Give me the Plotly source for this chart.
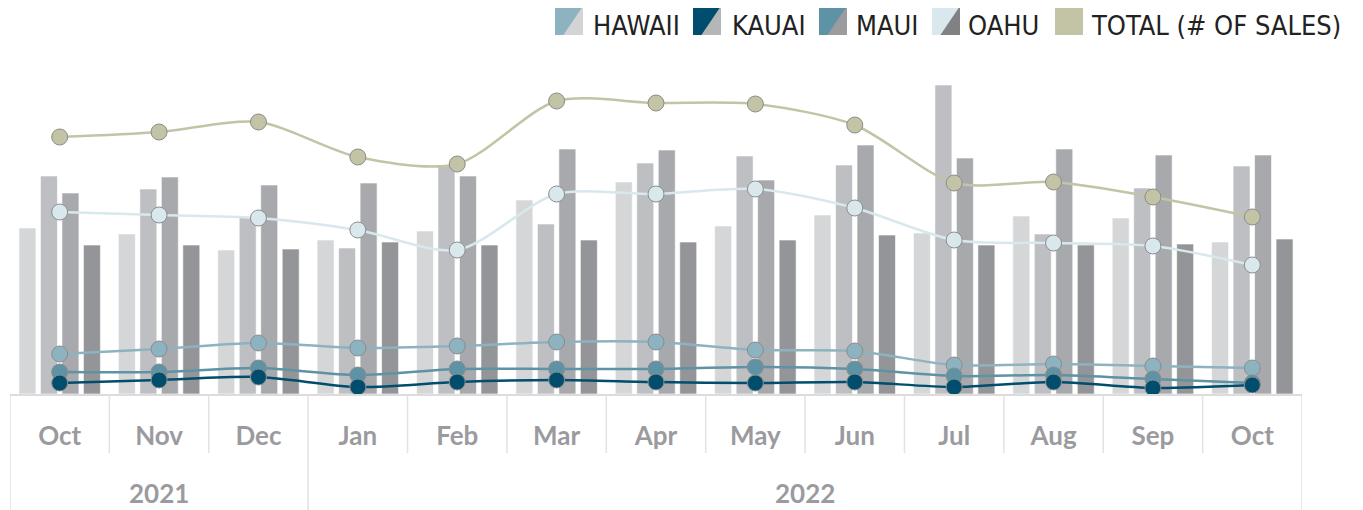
import plotly.graph_objects as go

# ---------------- data ----------------
years = ["2021"] * 3 + ["2022"] * 10
months = ["Oct", "Nov", "Dec", "Jan", "Feb", "Mar", "Apr", "May", "Jun",
          "Jul", "Aug", "Sep", "Oct"]
year_labels = ["2021", "2022"]

# bar series (arbitrary index units)
bar_hawaii = [166, 160, 144, 154, 163, 194, 212, 168, 179, 161, 178, 176, 152]
bar_kauai = [218, 205, 177, 146, 228, 170, 231, 238, 229, 309, 160, 206, 228]
bar_maui = [201, 217, 209, 211, 218, 245, 244, 214, 249, 236, 245, 239, 239]
bar_oahu = [149, 149, 145, 152, 149, 154, 152, 154, 159, 149, 149, 150, 155]

# line series (# of sales)
line_total = [257, 262, 272, 237, 230, 293, 291, 290, 269, 211, 212, 197, 177]
line_oahu = [182, 179, 176, 164, 144, 200, 200, 205, 186, 154, 151, 148, 129]
line_hawaii = [40, 45, 51, 46, 48, 52, 52, 44, 43, 29, 30, 28, 26]
line_maui = [22, 22, 26, 19, 25, 25, 25, 27, 25, 18, 19, 15, 11]
line_kauai = [11, 14, 17, 7, 12, 14, 12, 11, 12, 7, 12, 6, 9]

series_names = ["HAWAII", "KAUAI", "MAUI", "OAHU"]
bar_colors = ["#d5d6d8", "#bebfc3", "#a8a9ad", "#949598"]
legend_bar_colors = ["#d3d4d6", "#b5b6b8", "#9b9c9e", "#808183"]
line_colors = ["#8db3c1", "#004d6d", "#5e92a5", "#d8e8ec"]
total_color = "#c2c4a5"

# unique category keys, shown with month tick text
cats = [f"{m} {y}" for m, y in zip(months, years)]

fig = go.Figure()

for name, vals, col in zip(series_names,
                           [bar_hawaii, bar_kauai, bar_maui, bar_oahu],
                           bar_colors):
    fig.add_trace(go.Bar(x=cats, y=vals, name=name, marker_color=col,
                         marker_line=dict(color="rgba(255,255,255,0.6)", width=1),
                         showlegend=False))

line_order = [("TOTAL (# OF SALES)", line_total, total_color),
              ("OAHU", line_oahu, line_colors[3]),
              ("HAWAII", line_hawaii, line_colors[0]),
              ("MAUI", line_maui, line_colors[2]),
              ("KAUAI", line_kauai, line_colors[1])]
for name, vals, col in line_order:
    fig.add_trace(go.Scatter(x=cats, y=vals, name=name, mode="lines+markers",
                             line=dict(color=col, width=2.5, shape="spline",
                                       smoothing=0.8),
                             marker=dict(size=16, color=col,
                                         line=dict(color="#8c8c8c", width=1)),
                             showlegend=False))

# ---------------- layout ----------------
OFF = 8                      # default page body margin
W, H = 1363 - OFF, 510 - OFF
ml, mr, mt, mb = 10 - OFF, 61, 64 - OFF, 116
pw, ph = W - ml - mr, H - mt - mb
label_color = "#9b9b9f"
label_font = dict(family="Lato", size=26, color=label_color, weight="bold")


def px_x(p):
    """window pixel -> paper x"""
    return (p - OFF - ml) / pw


def px_y(p):
    """window pixel -> paper y"""
    return (H - mb - (p - OFF)) / ph


shapes = []
# month separators below the axis, longer at year boundaries
year_bounds = [i for i in range(len(years) + 1)
               if i in (0, len(years)) or years[i] != years[i - 1]]
for i in range(len(months) + 1):
    bottom = 515 if i in year_bounds else 453
    shapes.append(dict(type="line", xref="x", yref="paper",
                       x0=i - 0.5, x1=i - 0.5, y0=0, y1=px_y(bottom),
                       line=dict(color="#e2e2e2", width=1.5)))

annotations = []
# year labels centred under their month groups
for y in year_labels:
    idx = [i for i, v in enumerate(years) if v == y]
    annotations.append(dict(xref="x", yref="paper",
                            x=(idx[0] + idx[-1]) / 2, y=px_y(493),
                            xanchor="center", yanchor="middle", text=y,
                            showarrow=False, font=label_font))

# custom legend
legend_items = [
    (555, 592, line_colors[0], legend_bar_colors[0], "HAWAII"),
    (693, 731, line_colors[1], legend_bar_colors[1], "KAUAI"),
    (819, 855, line_colors[2], legend_bar_colors[2], "MAUI"),
    (932, 967, line_colors[3], legend_bar_colors[3], "OAHU"),
    (1055, 1090, total_color, total_color, "TOTAL (# OF SALES)"),
]
icon_w, icon_top, icon_bot = 28, 6, 35
for ix, tx, lc, bc, label in legend_items:
    x0, x1 = px_x(ix), px_x(ix + icon_w)
    y0, y1 = px_y(icon_bot), px_y(icon_top)
    shapes.append(dict(type="rect", xref="paper", yref="paper",
                       x0=x0, x1=x1, y0=y0, y1=y1,
                       fillcolor=lc, line=dict(width=0)))
    xm = px_x(ix + icon_w * 0.3)
    shapes.append(dict(type="path", xref="paper", yref="paper",
                       path=f"M {xm} {y0} L {x1} {y1} L {x1} {y0} Z",
                       fillcolor=bc, line=dict(width=0)))
    annotations.append(dict(xref="paper", yref="paper", x=px_x(tx), y=px_y(25),
                            xanchor="left", yanchor="middle", text=label,
                            showarrow=False, borderpad=0,
                            font=dict(family="DejaVu Sans Condensed, sans-serif",
                                      size=27, color="#222222")))

fig.update_layout(
    width=W, height=H,
    margin=dict(l=ml, r=mr, t=mt, b=mb, autoexpand=False),
    paper_bgcolor="white", plot_bgcolor="white",
    barmode="group", bargap=0.135, bargroupgap=0.21,
    shapes=shapes, annotations=annotations,
    showlegend=False,
    xaxis=dict(type="category", range=[-0.5, len(cats) - 0.5],
               showline=True, linecolor="#dcdcdc", linewidth=2,
               ticks="outside", ticklen=18, tickcolor="rgba(0,0,0,0)",
               tickvals=cats, ticktext=months, showgrid=False,
               automargin=False, tickfont=label_font, fixedrange=True),
    yaxis=dict(range=[0, ph], visible=False, fixedrange=True),
)

fig.write_html("out.html")
